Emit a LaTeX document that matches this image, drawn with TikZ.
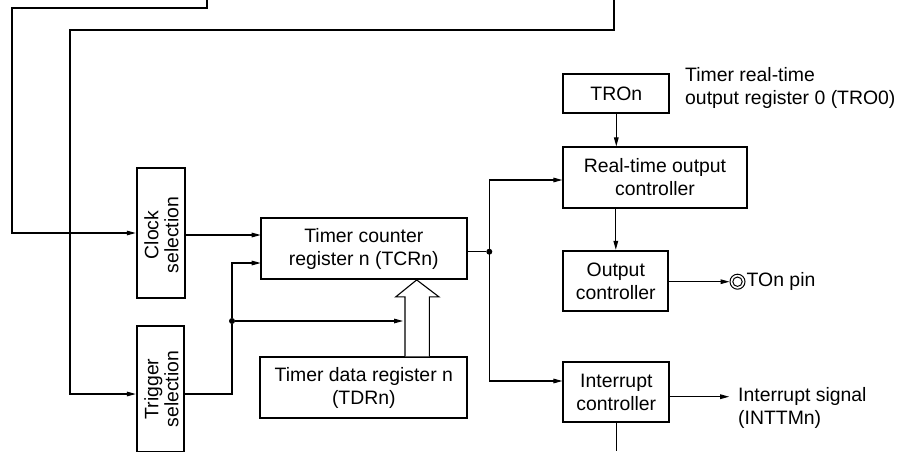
\documentclass[tikz,border=0pt]{standalone}
\usepackage{fontspec}
\setmainfont{Liberation Sans}
\usetikzlibrary{arrows.meta,calc}
\begin{document}
\begin{tikzpicture}[x=1pt,y=-1pt,
  every node/.style={font=\fontsize{19.4}{23}\selectfont, inner sep=0pt},
  box/.style={draw, line width=1.8pt, align=center},
  vbox/.style={box, font=\fontsize{19.4}{20}\selectfont},
  wire/.style={line width=1.1pt},
  arr/.style={wire, -{Triangle[length=9pt,width=4.6pt]}},
  dot/.style={circle, fill, minimum size=6pt, inner sep=0pt}]
\useasboundingbox (0,0) rectangle (899,451);
% boxes
\node[vbox, minimum width=48.3pt, minimum height=130pt] (clk) at (160.8,233) {};
\node[rotate=90, align=center, font=\fontsize{19.4}{20}\selectfont] (clkt) at (161.5,235) {Clock\\selection};
\node[vbox, minimum width=47.5pt, minimum height=126pt] (trg) at (160.5,389) {};
\node[rotate=90, align=center, font=\fontsize{19.4}{20}\selectfont] (trgt) at (161.5,389) {Trigger\\selection};
\node[box, minimum width=206.3pt, minimum height=61pt] (tcr) at (363.8,248.5) {Timer counter\\register n (TCRn)};
\node[box, minimum width=207pt, minimum height=61pt] (tdr) at (363.8,387.8) {Timer data register n\\(TDRn)};
\node[box, minimum width=106pt, minimum height=39.3pt] (tro) at (616.3,93.7) {TROn};
\node[box, minimum width=183.5pt, minimum height=60.4pt] (rt) at (655,177.5) {Real-time output\\controller};
\node[box, minimum width=105pt, minimum height=60.3pt] (oc) at (615.8,280.9) {Output\\controller};
\node[box, minimum width=106pt, minimum height=60.6pt] (ic) at (616.3,392) {Interrupt\\controller};
% labels
\node[anchor=west, align=left] (trolbl) at (685,87.5) {Timer real-time\\output register 0 (TRO0)};
\node[anchor=west, align=left] (intlbl) at (738,407.5) {Interrupt signal\\(INTTMn)};
\node[circle, draw, line width=1pt, minimum size=15pt] (pin) at (737.5,281.7) {};
\node[circle, draw, line width=1pt, minimum size=9.4pt] (pinin) at (737.5,281.7) {};
\node[anchor=west] (pinlbl) at (746.5,281.7) {TOn pin};
% coordinates
\coordinate (c1top) at (207,0);
\coordinate (c1a) at (207,8);
\coordinate (c1b) at (12,8);
\coordinate (c2top) at (614,0);
\coordinate (c2a) at (614,30);
\coordinate (c2b) at (70,30);
\coordinate (trgout) at (232,394);
\node[dot] (d1) at (232,321) {};
\coordinate (tcrin2) at (260.7,263);
\coordinate (tcrin1) at (260.7,235);
\coordinate (hol) at (403,321);
\node[dot] (d2) at (489.3,251.7) {};
\coordinate (vtop) at (489.3,180);
\coordinate (vbot) at (489.3,381);
\coordinate (icbot) at (616.3,451);
% connectors
\draw[arr] (c1top) -- (c1a) -- (c1b) |- (clk.west);
\draw[arr] (c2top) -- (c2a) -- (c2b) |- ([yshift=-5pt]trg.west);
\draw[arr] (clk.east |- tcrin1) -- (tcrin1);
\draw[wire] (trg.east |- trgout) -- (trgout) -- (d1);
\draw[arr] (d1) |- (tcrin2);
\draw[arr] (d1) -- (hol);
\draw[wire] (tcr.east |- d2) -- (d2);
\draw[wire] (vtop) -- (vbot);
\draw[arr] (vtop) -- (vtop -| rt.west);
\draw[arr] (vbot) -- (vbot -| ic.west);
\draw[arr] (tro.south) -- (tro.south |- rt.north);
\draw[arr] (oc.north |- rt.south) -- (oc.north);
\draw[arr] (oc.east |- pin.west) -- (pin.west);
\draw[arr] ([yshift=-4.7pt]ic.east) -- ++(59,0);
\draw[wire] (ic.south) -- (icbot);
% hollow arrow
\draw[line width=1.1pt, fill=white]
  ($(tdr.north)+(41.2,0)$) -- ($(tcr.south)+(41.2,17)$) -- ($(tcr.south)+(31.9,17)$)
  -- ($(tcr.south)+(52.9,0)$) -- ($(tcr.south)+(75.2,17)$) -- ($(tcr.south)+(65.5,17)$)
  -- ($(tdr.north)+(65.5,0)$);
\end{tikzpicture}
\end{document}
